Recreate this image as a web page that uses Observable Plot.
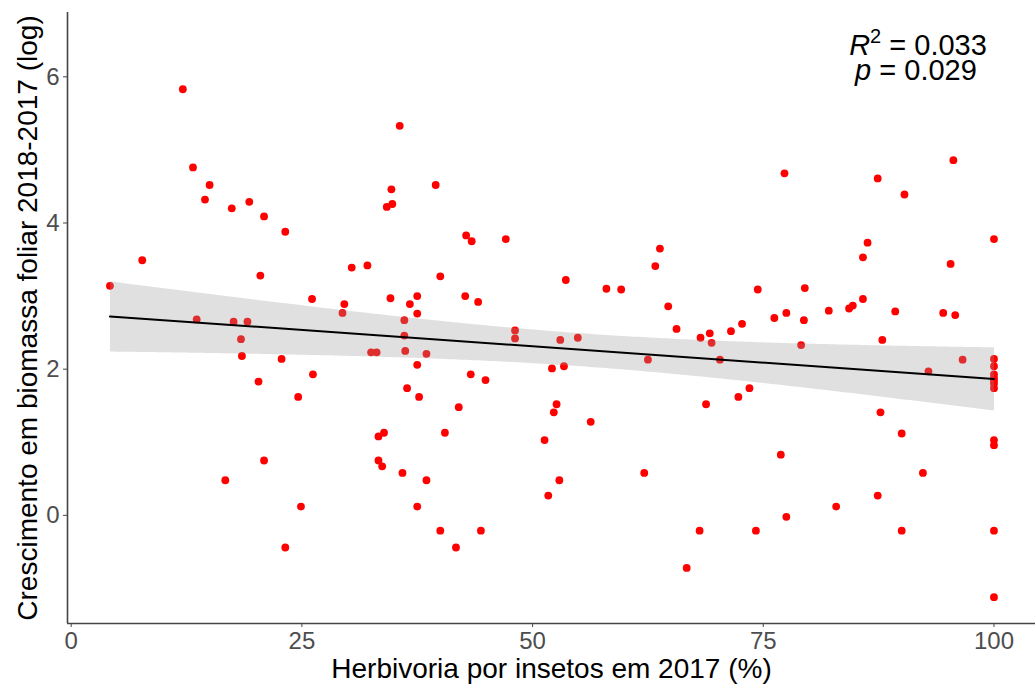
<!DOCTYPE html>
<html>
<head>
<meta charset="utf-8">
<script src="https://cdn.jsdelivr.net/npm/d3@7"></script>
<script src="https://cdn.jsdelivr.net/npm/@observablehq/plot@0.6"></script>
<style>
  html, body { margin: 0; padding: 0; background: #fff; }
  #chart svg { display: block; }
</style>
</head>
<body>
<div id="chart"></div>
<script>
const herbivoria = [4.2,7.7,12.1,13.2,15.0,14.5,17.4,19.3,20.9,23.2,20.5,26.1,29.6,29.4,30.4,32.1,
  13.6,17.6,19.1,18.4,18.5,22.8,20.3,26.2,24.6,32.5,33.1,33.3,33.9,33.3,33.7,20.9,16.7,24.9,23.2,
  35.6,34.7,34.2,34.8,39.5,42.8,43.4,47.1,40.0,34.6,37.5,36.7,37.5,36.1,42.7,44.1,53.6,58.0,59.6,63.8,63.3,64.7,65.6,
  48.1,48.1,36.1,36.2,38.5,37.5,36.4,37.7,43.3,44.9,42.0,40.5,35.9,38.5,37.5,40.0,44.4,41.7,
  53.0,54.9,52.1,53.4,52.6,52.3,56.3,51.3,52.9,51.7,62.1,62.5,66.7,
  77.3,87.4,90.3,95.6,86.3,85.8,100,95.3,74.4,79.5,85.8,76.2,77.5,79.4,82.1,84.3,84.7,89.3,94.5,95.8,72.7,71.5,
  69.2,68.2,69.4,79.1,87.9,70.3,96.6,92.9,68.8,72.3,73.5,87.7,90.0,76.9,92.3,87.4,82.9,77.5,68.1,74.2,90.0,
  100,100,100,100,100,100,100,100,100,100,100];
const crescimento = [3.14,3.49,5.83,4.76,4.52,4.32,4.20,4.29,4.09,3.88,3.28,2.96,2.89,2.77,3.39,3.42,
  2.68,2.65,2.65,2.41,2.18,2.14,1.83,1.93,1.62,2.23,2.23,1.08,1.13,0.75,0.67,0.75,0.48,0.12,-0.44,
  5.33,4.46,4.22,4.26,4.52,3.83,3.75,3.78,3.27,2.97,3.00,2.89,2.76,2.67,3.00,2.92,3.22,3.10,3.09,3.65,3.41,2.86,2.55,
  2.53,2.42,2.46,2.25,2.21,2.06,1.74,1.62,1.93,1.85,1.48,1.13,0.58,0.48,0.12,-0.21,-0.21,-0.44,
  2.40,2.43,2.01,2.04,1.52,1.41,1.28,1.03,0.48,0.27,0.58,2.13,-0.72,
  4.68,4.61,4.39,4.86,3.73,3.53,3.78,3.44,3.09,3.11,2.96,2.70,2.77,2.67,2.80,2.83,2.87,2.79,2.77,2.74,2.62,2.52,
  2.49,2.43,2.36,2.33,2.40,2.13,2.13,1.97,1.52,1.62,1.74,1.41,1.12,0.83,0.58,0.27,0.12,-0.02,-0.21,-0.21,-0.21,
  2.14,2.04,1.93,1.88,1.84,1.80,1.74,1.03,0.96,-0.21,-1.12];

const xTicks = [0, 25, 50, 75, 100];
const yTicks = [0, 2, 4, 6];
const xDomain = [-0.4, 104.5];
const yDomain = [-1.48, 6.88];
const xTitle = "Herbivoria por insetos em 2017 (%)";
const yTitle = "Crescimento em biomassa foliar 2018-2017 (log)";
const r2Text = "0.033";
const pText = "0.029";

const data = herbivoria.map((h, i) => ({h, c: crescimento[i]}));
const font = "'Liberation Sans', Arial, Helvetica, sans-serif";

const chart = Plot.plot({
  width: 1035,
  height: 692,
  marginLeft: 67,
  marginRight: 0,
  marginTop: 12,
  marginBottom: 69,
  style: {fontFamily: font, background: "#fff", overflow: "visible"},
  x: {domain: xDomain, label: null},
  y: {domain: yDomain, label: null},
  marks: [
    Plot.dot(data, {x: "h", y: "c", r: 3.9, fill: "#ff0000", stroke: "none"}),
    Plot.linearRegressionY(data, {x: "h", y: "c", stroke: "#000", strokeWidth: 2, fill: "#999999", fillOpacity: 0.3}),
    Plot.ruleX([xDomain[0]], {stroke: "#444", strokeWidth: 1.6}),
    Plot.ruleY([yDomain[0]], {stroke: "#444", strokeWidth: 1.6}),
    Plot.axisX({ticks: xTicks, tickSize: 4, tickPadding: 4, fontSize: 24, color: "#4d4d4d", stroke: "#444", label: null}),
    Plot.axisY({ticks: yTicks, tickSize: 4, tickPadding: 4, fontSize: 24, color: "#4d4d4d", stroke: "#444", label: null}),
    Plot.text([xTitle], {text: d => d, frameAnchor: "bottom", dy: 46, fontSize: 28, fill: "#000", textAnchor: "middle", lineAnchor: "middle"}),
    Plot.text([yTitle], {text: d => d, frameAnchor: "left", dx: -39, rotate: -90, fontSize: 28, fill: "#000", textAnchor: "middle", lineAnchor: "middle"})
  ]
});

document.getElementById("chart").appendChild(chart);

// R² / p annotation (plotmath style)
const svg = d3.select(chart);
const ann = svg.append("g")
  .attr("font-family", font)
  .attr("font-size", 29)
  .attr("fill", "#000")
  .attr("text-anchor", "middle");
const t1 = ann.append("text").attr("x", 918).attr("y", 55);
t1.append("tspan").attr("font-style", "italic").text("R");
t1.append("tspan").attr("font-size", 20).attr("dy", -12).text("2");
t1.append("tspan").attr("dy", 12).text(" = " + r2Text);
const t2 = ann.append("text").attr("x", 916).attr("y", 80);
t2.append("tspan").attr("font-style", "italic").text("p");
t2.append("tspan").text(" = " + pText);
</script>
</body>
</html>
